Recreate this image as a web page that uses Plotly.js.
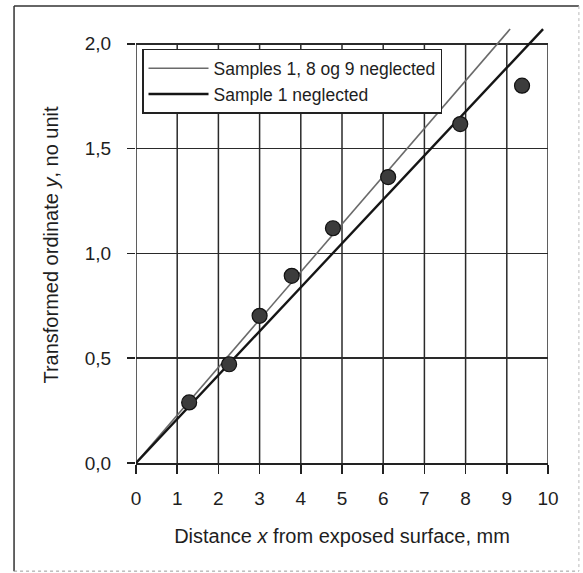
<!DOCTYPE html>
<html><head><meta charset="utf-8">
<script src="https://cdn.plot.ly/plotly-3.0.1.min.js"></script>
<style>html,body{margin:0;padding:0;background:#fff}</style>
</head><body><div id="chart" style="width:583px;height:573px"></div>
<script>
const sampleX = [1.29, 2.26, 3.00, 3.78, 4.78, 6.12, 7.87, 9.37];
const sampleY = [0.289, 0.471, 0.702, 0.893, 1.12, 1.364, 1.617, 1.80];
const fitNames = ["Samples 1, 8 og 9 neglected", "Sample 1 neglected"];
const fit189X = [0, 9.08];
const fit189Y = [0, 2.07];
const fit1X = [0, 9.88];
const fit1Y = [0, 2.07];
const xTickVals = [0, 1, 2, 3, 4, 5, 6, 7, 8, 9, 10];
const xTickText = ["0", "1", "2", "3", "4", "5", "6", "7", "8", "9", "10"];
const yTickVals = [0, 0.5, 1.0, 1.5, 2.0];
const yTickText = ["0,0", "0,5", "1,0", "1,5", "2,0"];

const FONT = "'Liberation Sans', Arial, Helvetica, sans-serif";
const INK = "#1e1e1e";
const yTop = yTickVals[yTickVals.length - 1];

const traces = [
  {x: fit189X, y: fit189Y, mode: "lines", name: fitNames[0],
   line: {color: "#6a6a6a", width: 1.6}},
  {x: fit1X, y: fit1Y, mode: "lines", name: fitNames[1],
   line: {color: "#151515", width: 2.4}},
  {x: sampleX, y: sampleY, mode: "markers", showlegend: false,
   marker: {size: 15, color: "#3c3c3c", line: {color: "#111", width: 1.2}}}
];

const shapes = xTickVals.map(v => ({
  type: "line", xref: "x", yref: "y", x0: v, x1: v, y0: 0, y1: yTop,
  line: {color: "#2a2a2a", width: 1.5}, layer: "below"
}));
// outer frame of the figure
shapes.push({type: "line", xref: "paper", yref: "paper", x0: -0.296, x1: 1.075, y0: 1.048, y1: 1.048, line: {color: "#333", width: 1.5}});
shapes.push({type: "line", xref: "paper", yref: "paper", x0: -0.296, x1: -0.296, y0: 1.048, y1: -0.248, line: {color: "#333", width: 1.5}});
shapes.push({type: "line", xref: "paper", yref: "paper", x0: -0.296, x1: 1.075, y0: -0.248, y1: -0.248, line: {color: "#999", width: 1, dash: "dot"}});
shapes.push({type: "line", xref: "paper", yref: "paper", x0: 1.075, x1: 1.075, y0: 1.048, y1: -0.248, line: {color: "#bbb", width: 1, dash: "dot"}});

const layout = {
  width: 583, height: 573,
  margin: {l: 136, r: 35, t: 27, b: 110},
  paper_bgcolor: "#fff", plot_bgcolor: "#fff",
  font: {family: FONT, color: INK, size: 19},
  showlegend: true,
  legend: {x: 0.0146, y: 0.95, xanchor: "left", yanchor: "top",
           bgcolor: "#fff", bordercolor: "#222", borderwidth: 1.5,
           font: {family: FONT, size: 17.5, color: INK}, itemwidth: 60},
  xaxis: {range: [0, 10], tickvals: xTickVals, ticktext: xTickText,
          showgrid: false, zeroline: false, showline: true, linecolor: "#222", linewidth: 1.5,
          ticks: "outside", ticklen: 9, tickwidth: 1.5, tickcolor: "#222",
          ticklabelstandoff: 9,
          tickfont: {family: FONT, size: 19, color: INK},
          title: {text: "Distance <i>x</i> from exposed surface, mm", font: {family: FONT, size: 20, color: INK}, standoff: 20}},
  yaxis: {range: [0, 2.08], tickvals: yTickVals, ticktext: yTickText,
          showgrid: true, gridcolor: "#2a2a2a", gridwidth: 1.5, zeroline: false, showline: false,
          ticks: "outside", ticklen: 8, tickwidth: 1.5, tickcolor: "#222",
          ticklabelstandoff: 12,
          tickfont: {family: FONT, size: 19, color: INK},
          title: {text: "Transformed ordinate <i>y</i>, no unit", font: {family: FONT, size: 20, color: INK}, standoff: 20}},
  shapes: shapes
};

Plotly.newPlot("chart", traces, layout, {displayModeBar: false, staticPlot: true});
</script>
</body></html>
